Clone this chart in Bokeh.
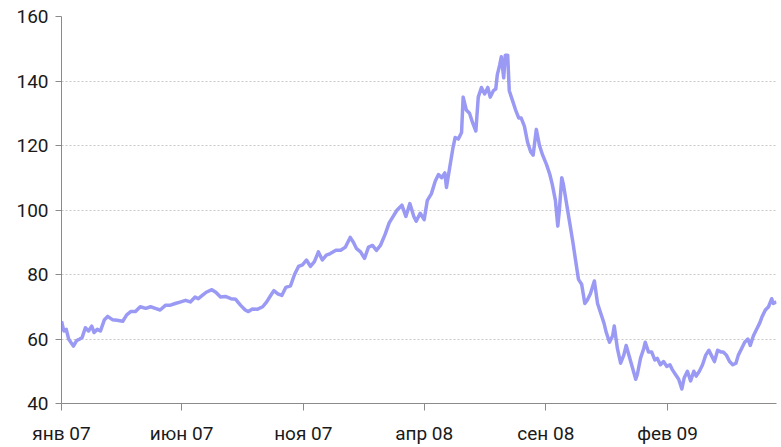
from bokeh.plotting import figure
from bokeh.models import FixedTicker, ColumnDataSource, Range1d
from bokeh.embed import file_html
from bokeh.resources import INLINE

# days since 2007-01-01 and price values
day = [0, 3, 6, 9, 13, 15, 19, 23, 26, 30, 34, 38, 41, 45, 49, 54, 58, 64, 70, 77,
       82, 87, 93, 99, 106, 112, 118, 124, 131, 137, 143, 150, 156, 162, 168, 172, 177, 182, 189, 194,
       200, 206, 213, 219, 225, 231, 235, 240, 246, 253, 258, 263, 267, 272, 277, 282, 288, 293, 298, 303,
       308, 313, 318, 323, 328, 333, 338, 345, 351, 357, 363, 367, 371, 376, 381, 386, 391, 396, 401, 407,
       412, 417, 422, 428, 433, 438, 443, 446, 451, 456, 460, 465, 470, 474, 478, 482, 484, 488, 492, 495,
       499, 503, 505, 509, 513, 517, 521, 524, 528, 532, 536, 539, 543, 546, 548, 551, 553, 556, 558, 561,
       563, 567, 571, 575, 578, 582, 586, 590, 593, 597, 601, 605, 610, 614, 617, 621, 624, 626, 629, 631,
       635, 639, 643, 646, 650, 654, 658, 661, 665, 670, 674, 678, 682, 685, 689, 693, 695, 699, 703, 707,
       710, 714, 718, 722, 724, 728, 732, 734, 738, 742, 746, 749, 753, 757, 761, 765, 768, 772, 776, 780,
       783, 787, 791, 795, 798, 802, 806, 810, 814, 817, 821, 825, 829, 832, 836, 840, 844, 848, 851, 855,
       859, 863, 866, 870, 874, 878, 881, 885, 889, 893, 895, 899]
price = [65.5, 62.5, 63, 60, 58.5, 57.8, 59.5, 60, 60.5, 63.5, 62.5, 64, 62, 63, 62.5, 66, 67, 66, 65.8, 65.5,
         67.5, 68.5, 68.5, 70, 69.5, 70, 69.5, 69, 70.5, 70.5, 71, 71.5, 72, 71.5, 73, 72.5, 73.5, 74.5, 75.3, 74.5,
         73, 73.2, 72.5, 72.3, 70.5, 69, 68.5, 69.3, 69.2, 70, 71.5, 73.5, 75, 74, 73.5, 76, 76.5, 80, 82.5, 83,
         84.5, 82.5, 84, 87, 84.5, 86, 86.5, 87.5, 87.5, 88.5, 91.5, 90, 88, 87, 85, 88.5, 89, 87.5, 89, 92.5,
         96, 98, 100, 101.5, 98, 102, 98, 96.5, 99, 97, 103, 105, 109, 111, 110, 111.5, 107, 113, 119, 122.5,
         122, 124, 135, 131, 130, 127, 124.5, 135, 138, 136, 138, 135, 137, 137.5, 142, 145, 147.5, 141, 148, 148,
         137, 134, 131, 128.5, 128.5, 126, 121, 118, 117, 125, 120, 117, 114, 111, 108, 103, 95, 100, 110, 108,
         102, 96, 90, 85, 78.5, 77, 71, 72, 74, 78, 71, 68, 65, 62, 59, 61, 64, 57, 52.5, 55,
         58, 54.5, 51, 47.5, 49, 54, 57, 59, 56, 56, 53.5, 54, 52, 53, 51.5, 52, 50.5, 49, 47.5, 44.5,
         48, 50, 47, 50, 48.5, 50, 52, 55, 56.5, 55, 53, 56.5, 56, 56, 55, 53, 52, 52.5, 55, 57,
         59, 60, 58, 61, 63, 65, 67, 69, 70, 72.5, 71, 71.5]

tick_days = [0, 151, 304, 456, 609, 762]
tick_labels = ["янв 07", "июн 07", "ноя 07", "апр 08", "сен 08", "фев 09"]
y_ticks = [40, 60, 80, 100, 120, 140, 160]

FONT = "Roboto"

src = ColumnDataSource(dict(day=day, price=price))

p = figure(width=778, height=447, output_backend="svg", toolbar_location=None,
           x_range=Range1d(0, 899), y_range=Range1d(40, 160),
           min_border_left=61, min_border_top=16, min_border_right=2, min_border_bottom=43)
p.outline_line_color = None
p.background_fill_color = "white"

p.line("day", "price", source=src, line_color="#9a9af5", line_width=3.5, line_join="round")

# x axis
p.xaxis.ticker = FixedTicker(ticks=tick_days)
p.xaxis.major_label_overrides = {d: l for d, l in zip(tick_days, tick_labels)}
p.xaxis.minor_tick_line_color = None
p.xaxis.major_tick_in = 0
p.xaxis.major_tick_out = 7
p.xaxis.axis_line_color = "#8a8a8a"
p.xaxis.major_tick_line_color = "#8a8a8a"
p.xaxis.major_label_text_font = FONT
p.xaxis.major_label_text_font_size = "19px"
p.xaxis.major_label_text_color = "#1a1a1a"
p.xaxis.major_label_standoff = 11

# y axis
p.yaxis.ticker = FixedTicker(ticks=y_ticks)
p.yaxis.minor_tick_line_color = None
p.yaxis.major_tick_in = 0
p.yaxis.major_tick_out = 6
p.yaxis.axis_line_color = "#8a8a8a"
p.yaxis.major_tick_line_color = "#8a8a8a"
p.yaxis.major_label_text_font = FONT
p.yaxis.major_label_text_font_size = "19px"
p.yaxis.major_label_text_color = "#1a1a1a"
p.yaxis.major_label_standoff = 7

p.xgrid.grid_line_color = None
p.ygrid.ticker = FixedTicker(ticks=y_ticks[1:])
p.ygrid.grid_line_color = "#c8c8c8"
p.ygrid.grid_line_dash = "2 2"
p.ygrid.grid_line_width = 1

open("out.html", "w").write(file_html(p, INLINE))
